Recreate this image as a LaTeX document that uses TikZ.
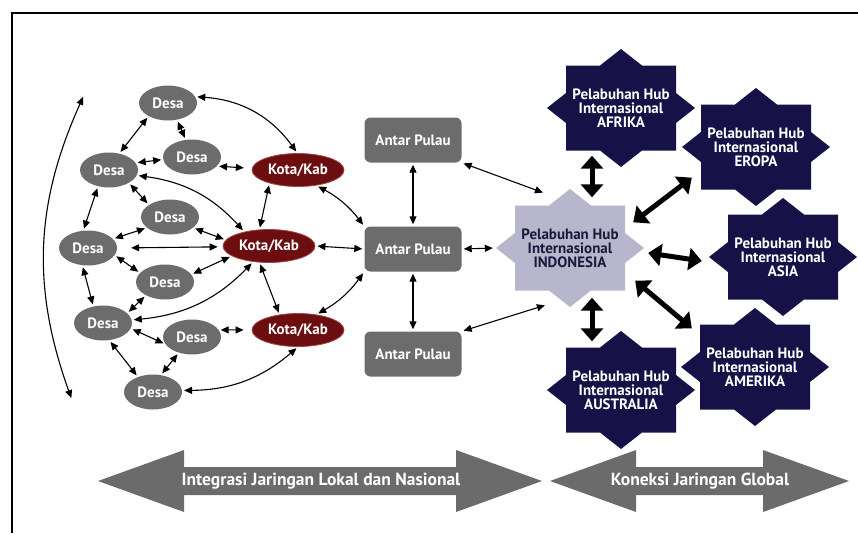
\documentclass[tikz,border=0pt]{standalone}
\usepackage{fontspec}
\setmainfont{PT Sans}
\usetikzlibrary{shapes.geometric,arrows.meta,calc}

\definecolor{desagrey}{RGB}{108,108,108}
\definecolor{kotared}{RGB}{108,14,16}
\definecolor{kotarim}{RGB}{160,70,70}
\definecolor{hubnavy}{RGB}{22,18,72}
\definecolor{indogrey}{RGB}{184,182,204}
\definecolor{indotext}{RGB}{28,26,60}
\definecolor{bandgrey}{RGB}{107,107,107}

% eight pointed hub star, centre and colour
\newcommand{\hubstar}[2]{%
	\fill[#2,shift={(#1)}] (-55,-42.5) -- (-21,-42.5) -- (0,-59) -- (21,-42.5) -- (55,-42.5)
		-- (55,-15) -- (74,0) -- (55,15) -- (55,42.5) -- (21,42.5) -- (0,59) -- (-21,42.5)
		-- (-55,42.5) -- (-55,15) -- (-74,0) -- (-55,-15) -- cycle;}

\tikzset{
	desa/.style={ellipse,fill=desagrey,text=white,minimum width=58pt,minimum height=35pt,inner sep=0pt,font=\bfseries\fontsize{15}{15}\selectfont},
	kota/.style={ellipse,fill=kotared,draw=kotarim,line width=0.8pt,text=white,minimum width=92pt,minimum height=33pt,inner sep=0pt,font=\bfseries\fontsize{15}{15}\selectfont},
	pulau/.style={rectangle,rounded corners=6pt,fill=desagrey,text=white,minimum width=97pt,minimum height=45pt,inner sep=0pt,font=\bfseries\fontsize{15}{15}\selectfont},
	hub/.style={rectangle,minimum width=110pt,minimum height=85pt,inner sep=0pt,align=center,text=white,font=\bfseries\fontsize{15}{14}\selectfont},
	band/.style={text=white,font=\bfseries\fontsize{17.5}{17.5}\selectfont},
	link/.style={line width=1.1pt,{Triangle[length=8pt,width=7pt]}-{Triangle[length=8pt,width=7pt]},shorten <=2pt,shorten >=2pt},
	biglink/.style={line width=5pt,{Triangle[length=13pt,width=22pt]}-{Triangle[length=13pt,width=22pt]}},
}

\begin{document}
\begin{tikzpicture}[x=1pt,y=-1pt]
	\useasboundingbox (0,0) rectangle (858,533);

	\coordinate (AFR) at (621,108);
	\coordinate (ERO) at (756,147);
	\coordinate (ASI) at (783,257);
	\coordinate (AME) at (755,367);
	\coordinate (AUS) at (621,390);
	\coordinate (INDO) at (570,248);

	\coordinate (LT) at (84,95);
	\coordinate (LB) at (72,400);



	\draw[line width=2pt] (12,533) -- (12,13) -- (858,13);

	% hubs
	\hubstar{INDO}{indogrey}
	\hubstar{AFR}{hubnavy}
	\hubstar{ERO}{hubnavy}
	\hubstar{ASI}{hubnavy}
	\hubstar{AME}{hubnavy}
	\hubstar{AUS}{hubnavy}

	\node[hub,text=indotext] (indo) at (INDO) {Pelabuhan Hub\\Internasional\\INDONESIA};
	\node[hub] (afr) at (AFR) {Pelabuhan Hub\\Internasional\\AFRIKA};
	\node[hub] (ero) at (ERO) {Pelabuhan Hub\\Internasional\\EROPA};
	\node[hub] (asi) at (ASI) {Pelabuhan Hub\\Internasional\\ASIA};
	\node[hub] (ame) at (AME) {Pelabuhan Hub\\Internasional\\AMERIKA};
	\node[hub] (aus) at (AUS) {Pelabuhan Hub\\Internasional\\AUSTRALIA};

	% local network
	\node[desa] (d1) at (168,103) {Desa};
	\node[desa] (d2) at (192,157) {Desa};
	\node[desa] (d3) at (109,170) {Desa};
	\node[desa] (d4) at (170,217) {Desa};
	\node[desa] (d5) at (88,248) {Desa};
	\node[desa] (d6) at (165,282) {Desa};
	\node[desa] (d7) at (103,323) {Desa};
	\node[desa] (d8) at (192,337) {Desa};
	\node[desa] (d9) at (153,392) {Desa};

	\node[kota] (k1) at (298,170) {Kota/Kab};
	\node[kota] (k2) at (269,246) {Kota/Kab};
	\node[kota] (k3) at (298,330) {Kota/Kab};

	\node[pulau] (p1) at (413,140) {Antar Pulau};
	\node[pulau] (p2) at (413,249) {Antar Pulau};
	\node[pulau] (p3) at (413,354) {Antar Pulau};

	\draw[link] (LT) to[bend right=22] (LB);

	\draw[link] (d1.13) to[bend left=25] (k1.92);
	\draw[link] (d1.214) -- (d3.58);
	\draw[link] (d1.-62) -- (d2.110);
	\draw[link] (d2.185) -- (d3.15);
	\draw[link,shorten >=8pt] (d2.-20) -- (k1.178);
	\draw[link] (d3.-11) to[bend left=20] (k2.150);
	\draw[link] (d3.-33) -- (d4.150);
	\draw[link] (d3.236) -- (d5.105);
	\draw[link] (k1.205) -- (k2.120);
	\draw[link] (d5.20) -- (d4.205);
	\draw[link] (d4.-25) -- (k2.172);
	\draw[link,shorten <=14pt,shorten >=5pt] (d5.0) -- (k2.181);
	\draw[link] (d5.-15) -- (d6.160);
	\draw[link] (d6.16) -- (k2.195);
	\draw[link] (d5.252) -- (d7.120);
	\draw[link] (d7.22) -- (d6.215);
	\draw[link] (d7.6) to[bend right=20] (k2.225);
	\draw[link] (k2.240) -- (k3.140);
	\draw[link] (d7.-11) -- (d8.195);
	\draw[link,shorten >=8pt] (d8.15) -- (k3.180);
	\draw[link] (d7.-70) -- (d9.135);
	\draw[link] (d9.65) -- (d8.230);
	\draw[link] (d9.3) to[bend right=20] (k3.-90);

	\draw[link] (k1.-40) to[bend left=12] (p2.north west);
	\draw[link] (k2.east) -- (p2.west);
	\draw[link] (k3.40) to[bend right=12] (p2.south west);
	\draw[link] (p1.south) -- (p2.north);
	\draw[link] (p2.south) -- (p3.north);

	\draw[link] (p1.south east) -- ([xshift=30pt,yshift=12pt]indo.north west);
	\draw[link] (p2.east) -- ([xshift=-20pt]indo.west);
	\draw[link] (p3.north east) -- ([xshift=32pt,yshift=-14pt]indo.south west);

	% global links
	\draw[biglink] ([xshift=-29pt,yshift=-5pt]afr.south) -- ([xshift=22pt,yshift=8pt]indo.north);
	\draw[biglink] ([xshift=8pt,yshift=-17pt]indo.north east) -- ([xshift=-9pt,yshift=12pt]ero.south west);
	\draw[biglink] ([xshift=23pt,yshift=-5pt]indo.east) -- ([xshift=-26pt,yshift=-4pt]asi.west);
	\draw[biglink] ([xshift=10pt,yshift=10pt]indo.south east) -- ([xshift=-8pt,yshift=-4pt]ame.north west);
	\draw[biglink] ([xshift=22pt,yshift=-7pt]indo.south) -- ([xshift=-29pt,yshift=6pt]aus.north);

	% bands
	\fill[bandgrey] (98,481) -- (184,450) -- (184,467) -- (456,467) -- (456,450) -- (542,481)
		-- (456,512) -- (456,495) -- (184,495) -- (184,512) -- cycle;
	\fill[bandgrey] (550,481) -- (636,450) -- (636,467) -- (763,467) -- (763,450) -- (849,481)
		-- (763,512) -- (763,495) -- (636,495) -- (636,512) -- cycle;
	\node[band] (lokal) at (321,481) {Integrasi Jaringan Lokal dan Nasional};
	\node[band] (global) at (700,481) {Koneksi Jaringan Global};

\end{tikzpicture}
\end{document}
